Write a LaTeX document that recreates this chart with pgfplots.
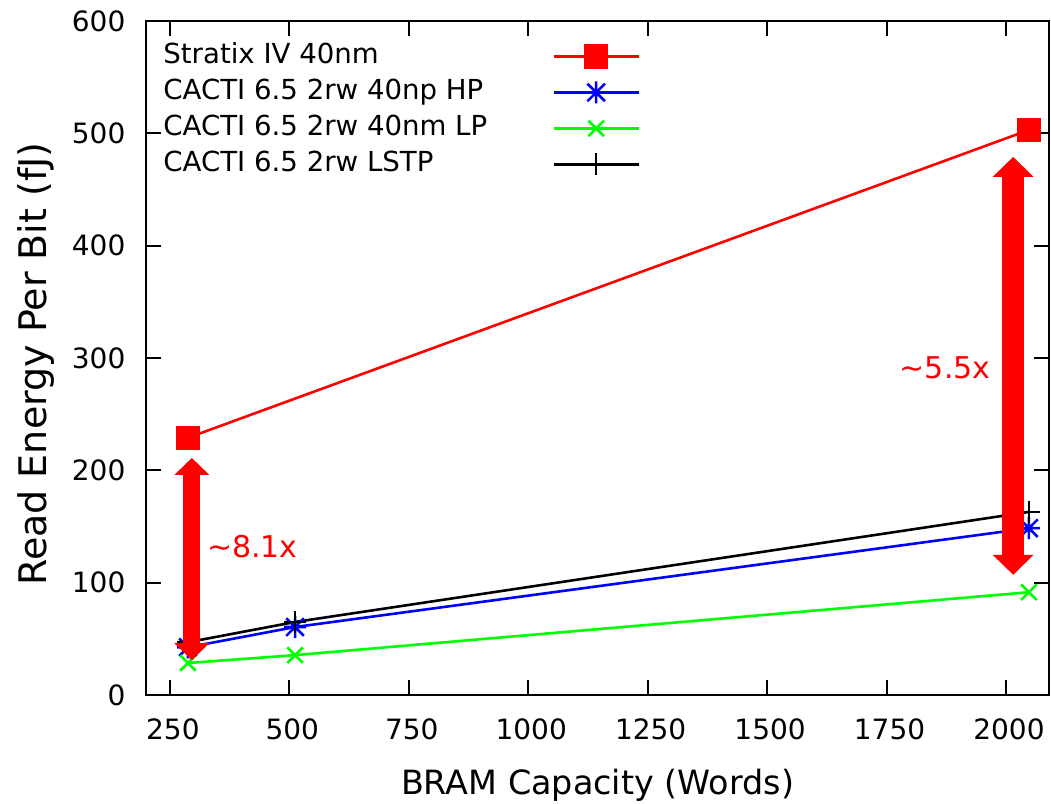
\documentclass[border=0pt]{standalone}
\usepackage{fontspec}
\setmainfont{DejaVu Sans}
\usepackage{pgfplots}
\pgfplotsset{compat=1.18}
\usetikzlibrary{arrows.meta}

\pgfdeclareplotmark{gstar}{%
  \pgfpathmoveto{\pgfqpoint{-\pgfplotmarksize}{0pt}}%
  \pgfpathlineto{\pgfqpoint{\pgfplotmarksize}{0pt}}%
  \pgfpathmoveto{\pgfqpoint{0pt}{-\pgfplotmarksize}}%
  \pgfpathlineto{\pgfqpoint{0pt}{\pgfplotmarksize}}%
  \pgfpathmoveto{\pgfqpoint{-0.8\pgfplotmarksize}{-0.8\pgfplotmarksize}}%
  \pgfpathlineto{\pgfqpoint{0.8\pgfplotmarksize}{0.8\pgfplotmarksize}}%
  \pgfpathmoveto{\pgfqpoint{-0.8\pgfplotmarksize}{0.8\pgfplotmarksize}}%
  \pgfpathlineto{\pgfqpoint{0.8\pgfplotmarksize}{-0.8\pgfplotmarksize}}%
  \pgfusepathqstroke}

\newcommand{\lrow}{\rule[-5.5pt]{0pt}{18pt}}

\begin{document}
\begin{tikzpicture}
\begin{axis}[
  scale only axis, width=451.5pt, height=337pt,
  xmin=200, xmax=2090, ymin=0, ymax=600,
  xtick={250,500,...,2000}, ytick={0,100,...,600},
  tick align=inside, xtick pos=both, ytick pos=both,
  major tick length=7.5pt,
  axis line style={line width=1.1pt},
  every tick/.style={black, line width=1pt},
  scaled ticks=false,
  /pgf/number format/1000 sep={},
  /pgf/number format/assume math mode=true,
  tick label style={font=\fontsize{14}{17}\selectfont},
  xticklabel style={yshift=-8.5pt, xshift=1.5pt},
  yticklabel style={xshift=-6.8pt},
  xlabel={BRAM Capacity (Words)},
  ylabel={Read Energy Per Bit (fJ)},
  xlabel style={at={([yshift=-45pt]rel axis cs:0.5,0)}, anchor=center, font=\fontsize{16.7}{20}\selectfont},
  ylabel style={at={([xshift=-55pt,yshift=-3pt]rel axis cs:0,0.5)}, anchor=center, font=\fontsize{19}{22}\selectfont},
  clip=false,
  legend plot pos=right,
  legend cell align=left,
  legend style={at={(0,1)}, xshift=8.5pt, yshift=-8.5pt, anchor=north west, draw=none, fill=none, inner sep=0pt, row sep=0pt, column sep=0pt, font=\fontsize{13.8}{18}\selectfont, nodes={inner sep=0pt, text depth=5.5pt}},
  legend image code/.code={\draw[mark repeat=2,mark phase=2,#1] plot coordinates {(0pt,0pt) (21.25pt,0pt) (42.5pt,0pt)};},
]
\addplot[red, line width=1.3pt, mark=square*, mark size=5.4pt, mark options={solid}] coordinates {(288,229) (2048,503)};
\addlegendentry{\makebox[194.5pt][l]{Stratix IV 40nm\lrow}}
\addplot[blue, line width=1.3pt, mark=gstar, mark size=5.5pt] coordinates {(288,42.5) (512,60.5) (2048,148.5)};
\addlegendentry{\makebox[194.5pt][l]{CACTI 6.5 2rw 40np HP\lrow}}
\addplot[green, line width=1.3pt, mark=x, mark size=5.5pt] coordinates {(288,28.5) (512,35.5) (2048,91.5)};
\addlegendentry{\makebox[194.5pt][l]{CACTI 6.5 2rw 40nm LP\lrow}}
\addplot[black, line width=1.3pt, mark=+, mark size=5.5pt] coordinates {(288,47) (512,65) (2048,163)};
\addlegendentry{\makebox[194.5pt][l]{CACTI 6.5 2rw LSTP\lrow}}

\coordinate (la) at (axis cs:296,211);
\coordinate (lb) at (axis cs:296,31);
\coordinate (ra) at (axis cs:2015,479);
\coordinate (rb) at (axis cs:2015,107);
\node[red, anchor=west, inner sep=0pt, font=\fontsize{15}{18}\selectfont] at (axis cs:327,132) {\textasciitilde 8.1x};
\node[red, anchor=west, inner sep=0pt, font=\fontsize{15}{18}\selectfont] at (axis cs:1777,291) {\textasciitilde 5.5x};
\end{axis}
\draw[red, line width=8.5pt, {Triangle[length=8.5pt,width=17.5pt,line width=0pt]}-{Triangle[length=8.5pt,width=17.5pt,line width=0pt]}] (la) -- (lb);
\draw[red, line width=11pt, {Triangle[length=10pt,width=20.5pt,line width=0pt]}-{Triangle[length=10pt,width=20.5pt,line width=0pt]}] (ra) -- (rb);
\pgfresetboundingbox
\path[use as bounding box] ([xshift=-73pt,yshift=-54.5pt]current axis.south west) rectangle ++(525.5pt,402pt);
\end{tikzpicture}
\end{document}
